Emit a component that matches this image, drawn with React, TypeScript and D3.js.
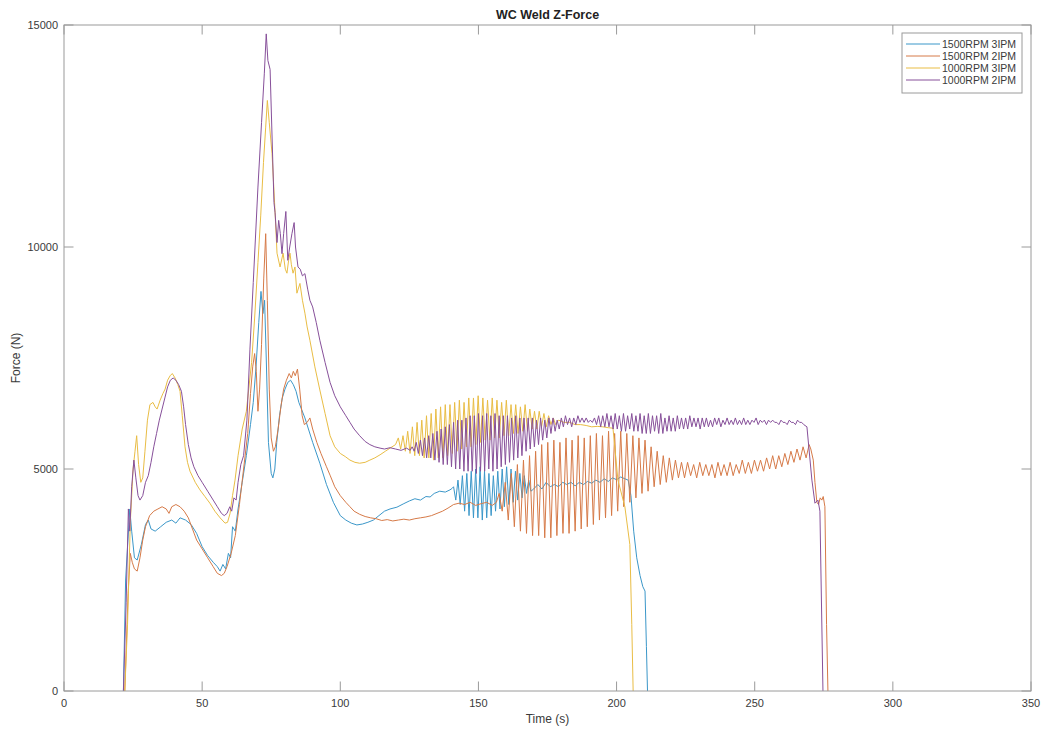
import React from 'react';
import * as d3 from 'd3';

const W = 1044, H = 734;
const PL = 64, PR = 1031, PT = 25, PB = 691;

const xTicks = [0, 50, 100, 150, 200, 250, 300, 350];
const yTicks = [0, 5000, 10000, 15000];
const seriesNames = ['1500RPM 3IPM', '1500RPM 2IPM', '1000RPM 3IPM', '1000RPM 2IPM'];
const seriesColors = ['#3b97c9', '#d67a48', '#e9bd45', '#87509a'];

// ---- 1500RPM 3IPM ----
const blueStart: [number, number][] = [
  [21.5,0],[22.3,2500],[23.8,4100],[24.5,3600],[25.5,3000],[26.5,2950],[28,3300],[29.5,3750],[30.5,3850],[31.5,3650],
  [33,3600],[35,3700],[37,3800],[39,3850],[40.5,3780],[42,3900],[44,3850],[46,3750],[48,3550],[50,3250],[52,3050],
  [54,2900],[55.5,2800],[56.5,2700],[57.5,2850],[58.5,2750],[59.5,3100],[60.3,3000],[61,3700],[62,3600],[63,4100],
  [64.5,4700],[66,5300],[67.5,6000],[68.5,6500],[69.5,7300],[70.5,8300],[71.3,9000],[72,8500],[72.6,8800],[73.2,7500],
  [74,5600],[75,4900],[75.6,4800],[76.3,5000],[77,5600],[78,6200],[79,6600],[80,6800],[81,6950],[82,7000],[83,6900],
  [84,6750],[85,6500],[87.2,6150],[90,5600],[92.6,5130],[95,4650],[97.5,4250],[100,3950],[102,3850],[104,3780],
  [106,3740],[108,3760],[110,3800],[112,3850],[114,3950],[116,4050],[118,4100],[120.5,4140],[123,4220],[125,4280],
  [127,4330],[129,4300],[131,4380],[132.5,4370],[134,4450],[136,4500],[138,4480],[139.7,4530],[140.4,4560]
];
const blueOscT0 = 141, blueOscStep = 0.8;
const blueOsc = [
  4600,4300,4750,4200,4850,4050,4900,3950,4950,3900,5000,3900,5050,3850,4950,3900,4900,3950,
  4850,4050,4950,4100,5000,4150,5050,4200,5000,4250,4950,4300,4900,4350,4850,4450,4750,4500
];
const blueEnd: [number, number][] = [
  [170,4550],[171.5,4650],[173,4550],[174.5,4700],[176,4600],[177.5,4650],[179,4600],[180.5,4700],[182,4650],
  [183.5,4700],[185,4620],[186.5,4700],[188,4650],[189.5,4720],[191,4680],[192.5,4750],[194,4700],[195.5,4780],
  [197,4720],[198.5,4800],[200,4760],[201.5,4820],[203,4780],[204.2,4750],[205.2,4400],[206.2,3600],[207.3,3000],
  [208.5,2600],[209.5,2350],[210.3,2250],[210.8,1000],[211.2,0]
];

// ---- 1500RPM 2IPM ----
const orangeStart: [number, number][] = [
  [22,0],[23.2,2200],[24,3100],[24.7,2900],[25.5,2750],[26.5,2700],[27.5,3000],[28.5,3400],[29.5,3700],[31,3950],
  [32.5,4050],[34,4100],[35.5,4150],[37,4100],[38,4000],[39,4150],[40.5,4200],[42,4150],[43.5,4050],[45,3900],
  [46.5,3650],[48,3400],[50,3200],[52,3000],[54,2800],[55.5,2650],[57,2600],[58,2650],[59,2800],[60.5,3100],
  [62,3500],[63.5,4200],[65,5000],[66.5,5800],[67.5,6700],[68.3,7300],[69,7600],[69.6,7200],[70.2,6300],[70.8,6800],
  [71.5,7800],[72.3,9300],[73,10300],[73.6,8800],[74.3,6800],[75,5700],[75.8,5400],[76.5,5500],[77.5,5900],
  [78.5,6400],[79.5,6800],[80.5,7000],[81.5,7150],[82.3,7050],[83,7200],[83.7,7100],[84.5,7250],[85.3,6800],
  [86.2,6200],[87,6000],[88,6050],[89,6150],[90,5900],[91.5,5600],[93,5350],[95,5050],[96.3,4860],[98,4600],
  [100,4400],[102,4250],[103.5,4150],[105,4050],[107,3980],[109,3930],[111,3900],[113,3880],[115,3840],[117,3860],
  [119,3830],[121,3850],[123,3870],[125,3850],[127,3880],[129,3900],[131,3920],[133,3950],[135,4000],[137,4050],
  [139,4120],[141,4200],[143,4230],[145,4200],[147,4250],[149,4180],[151,4220],[153,4250],[155,4180],[156.5,4250]
];
const orangeOscT0 = 157.5, orangeOscStep = 1.1;
const orangeOsc = [
  4450,4050,4700,3850,4900,3700,5100,3600,5200,3550,5300,3500,5400,3500,5550,3450,5600,3450,5650,3500,
  5600,3550,5700,3550,5650,3600,5750,3650,5700,3700,5750,3750,5800,3850,5750,3900,5850,3950,5800,4050,
  5850,4150,5800,4250,5750,4350,5700,4450,5650,4500,5500,4600,5400,4650,5300,4700,5250,4750,5200,4800,
  5150,4800,5150,4850,5100,4800,5150,4850,5100,4850,5100,4800,5150,4850,5100,4850,5150,4850,5100,4900,
  5200,4900,5150,4900,5200,4950,5200,4950,5250,5000,5300,5000,5300,5050,5350,5100,5400,5150,5450,5200,
  5500,5250,5550
];
const orangeEnd: [number, number][] = [
  [270.3,5450],[271.2,5200],[271.8,4700],[272.5,4250],[273.1,4200],[273.7,4350],[274.3,4300],[274.8,4380],
  [275.4,4150],[276,1500],[276.5,0]
];

// ---- 1000RPM 3IPM ----
const yellowStart: [number, number][] = [
  [22,0],[23,1500],[24,3800],[25,5000],[25.7,5400],[26.3,5750],[27,5100],[27.8,4700],[28.5,4800],[29.3,5400],
  [30.2,6100],[31.1,6450],[32.2,6500],[33,6400],[33.7,6350],[34.8,6550],[35.8,6700],[36.6,6800],[37.5,7000],
  [38.4,7100],[39.2,7150],[40.2,7050],[41.2,6900],[42,6750],[42.8,6200],[43.8,5500],[44.7,5150],[45.6,4950],
  [47.5,4700],[49.2,4530],[51,4380],[52.8,4230],[54.6,4050],[56.5,3900],[58.3,3780],[59.2,3800],[60.1,4000],
  [61,4400],[61.9,4750],[63,5300],[64.5,5900],[66,6300],[67.9,7400],[69,8400],[70.2,9650],[71.2,10700],
  [72.2,11900],[73,12700],[73.6,13300],[74.3,12800],[75.3,12100],[76.4,10770],[77.1,9860],[78.2,9550],
  [79.3,9860],[80.1,9500],[80.7,9410],[81.3,9700],[81.8,9860],[82.3,9600],[82.9,9410],[83.6,9550],[84.3,8960],
  [85.4,9180],[86.3,8800],[87.2,8510],[88,8200],[89,7900],[90.8,7300],[92.6,6780],[94.5,6250],[96.3,5750],
  [98,5500],[100,5350],[101.8,5280],[103.5,5200],[105.3,5150],[107,5130],[109,5150],[110.7,5200],[112.5,5250],
  [114.4,5320],[116.3,5400],[118,5470],[120,5550]
];
const yellowOscT0 = 121, yellowOscStep = 0.85;
const yellowOsc = [
  5700,5450,5750,5400,5850,5350,5950,5300,6050,5300,6100,5250,6200,5250,6250,5200,6350,5250,6400,5250,
  6450,5300,6450,5350,6500,5400,6550,5450,6500,5500,6600,5500,6600,5550,6650,5600,6600,5650,6550,5650,
  6600,5700,6550,5700,6500,5750,6550,5750,6450,5800,6450,5800,6400,5850,6450,5850,6350,5900,6300,5900,
  6300,5950,6250,5950,6200,6000,6150,6000
];
const yellowEnd: [number, number][] = [
  [179,6100],[181,6050],[183,6050],[185,6000],[187,6000],[189,5980],[191,5950],[193,5960],[195,5950],[197,5930],
  [198.7,5920],[200.5,4750],[203,4150],[204.8,3300],[205.5,1500],[206,0]
];

// ---- 1000RPM 2IPM ----
const purpleStart: [number, number][] = [
  [21.5,0],[22.5,2000],[23.3,4100],[23.8,3600],[24.5,4600],[25.3,5200],[26,4800],[26.8,4400],[27.5,4300],
  [28.5,4400],[29.5,4700],[30.5,4850],[31.5,5150],[32.5,5500],[33.5,5800],[34.5,6100],[35.5,6350],[36.5,6600],
  [37.5,6850],[38.5,7000],[39.5,7050],[40.5,7000],[41.5,6900],[42.5,6750],[43.3,6400],[44,6000],[45,5550],
  [46,5250],[47,5050],[48.5,4850],[50,4700],[52,4500],[54,4300],[55.5,4150],[57,4000],[58,3950],[59,4000],
  [60,4150],[60.7,4050],[61.5,4350],[62.3,4300],[63,4700],[64,5100],[65,5300],[66.2,6100],[67.3,7700],[68.5,9200],
  [70.2,11350],[71.5,12800],[72.5,13900],[73.2,14800],[73.8,14200],[74.6,14000],[75.3,12500],[76,11000],
  [76.4,10770],[77.1,10100],[77.7,10600],[78.3,10300],[78.9,9850],[79.5,10300],[80.3,10800],[81,9700],
  [81.7,10000],[82.5,10300],[83.3,10550],[83.8,10000],[84.7,9550],[85.5,9500],[86.3,9350],[87.2,9400],
  [88.2,9050],[89,8800],[90,8650],[91.3,8300],[92.6,7900],[94.5,7400],[96.3,6950],[98,6650],[100,6400],
  [102,6200],[103.5,6050],[105,5900],[107,5750],[109,5620],[110.7,5550],[112.5,5500],[114.4,5470],[116,5450],
  [118,5480],[120,5450],[122,5420],[124,5470],[125.3,5420]
];
const purpleOscT0 = 126, purpleOscStep = 0.75;
const purpleOsc = [
  5500,5400,5600,5350,5650,5300,5700,5250,5750,5250,5800,5200,5850,5150,
  5900,5100,5950,5100,6000,5050,6050,5000,6100,5000,6100,4950,6150,4950,6200,4950,
  6200,4900,6250,4950,6200,4950,6250,5000,6200,4950,6250,5000,6200,5050,6200,5100,
  6200,5150,6150,5200,6200,5250,6150,5300,6150,5400,6150,5450,6150,5500,6100,5550,
  6150,5650,6100,5700,6150,5800,6150,5850,6100,5900,6150,5950,6200,6000,6150,5950,
  6150,6000,6200,6050,6150,6050,6150,6050,6100,6050,6150,6000,6200,5950,6200,5950,
  6250,5950,6200,5900,6250,5900,6200,5850,6250,5850,6200,5900,6250,5850,6200,5850,
  6250,5800,6200,5800,6250,5800,6200,5850,6200,5800,6250,5800,6150,5850,6200,5850,
  6150,5850,6200,5900,6150,5900,6150,5900,6200,5950,6150,5950,6150,5900,6150,5950,
  6150,5950,6100,5950,6150,6000,6150,5950,6100,6000,6150,6000,6100,6000,6150,6000,
  6100,6000,6150,6000,6100,6000,6100,6050,6150,6000,6100,6050,6100,6000,6100,6050,
  6100,6050,6050,6000,6100,6050,6050,6000,6100,6050,6050,6000,6100,6050,6050,6000
];
const purpleEnd: [number, number][] = [
  [268.9,5950],[270.7,4750],[271.8,4230],[272.9,4300],[273.6,4050],[274.7,0]
];

function assemble(pre: [number, number][], t0: number, step: number, osc: number[], post: [number, number][]) {
  const mid: [number, number][] = osc.map((v, i) => [t0 + i * step, v]);
  return [...pre, ...mid, ...post];
}

const seriesData = [
  assemble(blueStart, blueOscT0, blueOscStep, blueOsc, blueEnd),
  assemble(orangeStart, orangeOscT0, orangeOscStep, orangeOsc, orangeEnd),
  assemble(yellowStart, yellowOscT0, yellowOscStep, yellowOsc, yellowEnd),
  assemble(purpleStart, purpleOscT0, purpleOscStep, purpleOsc, purpleEnd),
];

export default function App() {
  const x = d3.scaleLinear().domain([0, 350]).range([PL, PR]);
  const y = d3.scaleLinear().domain([0, 15000]).range([PB, PT]);
  const line = d3.line<[number, number]>().x(d => x(d[0])).y(d => y(d[1]));
  const axisColor = '#9a9a9a';
  const textColor = '#3a3a3a';
  const tickLen = 9.5;
  const font = 'Liberation Sans, Arial, sans-serif';
  const legX = 902, legY = 33, legW = 120, legH = 60;
  return (
    <svg width={W} height={H} style={{ position: 'absolute', left: 0, top: 0, background: '#fff' }}
      fontFamily={font}>
      <rect x={0} y={0} width={W} height={H} fill="#fff" />
      <g fill="none">
        {seriesData.map((d, i) => (
          <path key={i} d={line(d) || ''} stroke={seriesColors[i]} strokeWidth={1} strokeLinejoin="round" />
        ))}
      </g>
      <rect x={PL} y={PT} width={PR - PL} height={PB - PT} fill="none" stroke={axisColor} strokeWidth={1} />
      {xTicks.map(t => (
        <g key={'x' + t}>
          <line x1={x(t)} x2={x(t)} y1={PB} y2={PB - tickLen} stroke={axisColor} />
          <line x1={x(t)} x2={x(t)} y1={PT} y2={PT + tickLen} stroke={axisColor} />
          <text x={x(t)} y={707} textAnchor="middle" fontSize={11} fill={textColor}>{t}</text>
        </g>
      ))}
      {yTicks.map(t => (
        <g key={'y' + t}>
          <line x1={PL} x2={PL + tickLen} y1={y(t)} y2={y(t)} stroke={axisColor} />
          <line x1={PR} x2={PR - tickLen} y1={y(t)} y2={y(t)} stroke={axisColor} />
          <text x={58} y={y(t) + 4} textAnchor="end" fontSize={11} fill={textColor}>{t}</text>
        </g>
      ))}
      <text x={(PL + PR) / 2} y={19} textAnchor="middle" fontSize={12.5} fontWeight="bold" fill="#222">WC Weld Z-Force</text>
      <text x={(PL + PR) / 2} y={723} textAnchor="middle" fontSize={12} fill={textColor}>Time (s)</text>
      <text transform={`translate(20,${(PT + PB) / 2}) rotate(-90)`} textAnchor="middle" fontSize={12} fill={textColor}>Force (N)</text>
      <g>
        <rect x={legX} y={legY} width={legW} height={legH} fill="#fff" stroke={axisColor} />
        {seriesNames.map((n, i) => (
          <g key={n}>
            <line x1={legX + 4} x2={legX + 38} y1={legY + 11 + i * 12} y2={legY + 11 + i * 12} stroke={seriesColors[i]} strokeWidth={1} />
            <text x={legX + 40} y={legY + 15 + i * 12} fontSize={10.5} fill={textColor}>{n}</text>
          </g>
        ))}
      </g>
    </svg>
  );
}
